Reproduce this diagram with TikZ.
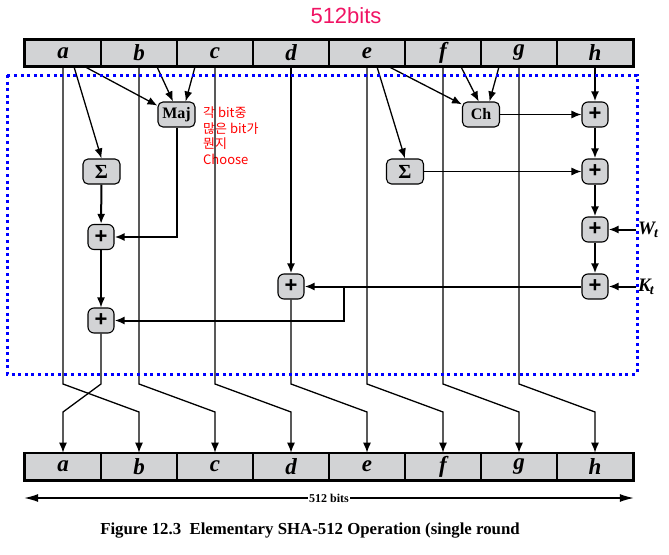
\documentclass[tikz,border=0pt]{standalone}
\usepackage{fontspec}
\setmainfont{Liberation Serif}
\newfontfamily\plusfont{Liberation Sans}
\newfontfamily\krfont{Noto Sans CJK KR}
\usetikzlibrary{arrows.meta}
\definecolor{boxgray}{RGB}{210,211,213}
\definecolor{titlepink}{RGB}{240,20,100}

\begin{document}
\begin{tikzpicture}[x=1pt,y=-1pt,
    >={Latex[length=10pt,width=8pt]},
    reg/.style={draw, line width=1.6pt, fill=boxgray, minimum width=76pt, minimum height=26pt, inner sep=0pt, font=\fontsize{23}{23}\selectfont\bfseries\itshape},
    func/.style={draw, line width=1.1pt, fill=boxgray, rounded corners=5pt, minimum width=37pt, minimum height=25pt, inner sep=0pt, font=\fontsize{16}{16}\selectfont\bfseries},
    adder/.style={draw, line width=1.1pt, fill=boxgray, rounded corners=6pt, minimum width=26pt, minimum height=25pt, inner sep=0pt, font=\plusfont\fontsize{22}{22}\selectfont\bfseries},
    wire/.style={line width=1.3pt},
    bus/.style={line width=2pt}]
                \newcommand{\cellw}{76}
                \useasboundingbox (0,0) rectangle (669,554);

                % Title
                \node[text=titlepink, font=\plusfont\fontsize{22}{22}\selectfont] (title) at (346,16) {512bits};

                % Draw registers
                \foreach \r [count=\i from 0] in {a,b,c,d,e,f,g,h} {
                    \node[reg] (t\r) at ({63+\cellw*\i},53) {\r};
                    \node[reg] (b\r) at ({63+\cellw*\i},466.5) {\r};
                }
                \draw[line width=2.4pt] (ta.north west) rectangle (th.south east);
                \draw[line width=2.4pt] (ba.north west) rectangle (bh.south east);

                % Draw function boxes
                \node[func] (maj) at (176.5,114.5) {Maj};
                \node[func, font=\fontsize{20}{20}\selectfont\bfseries] (sigA) at (101.5,171.5) {Σ};
                \node[func] (ch) at (481,114.5) {Ch};
                \node[func, font=\fontsize{20}{20}\selectfont\bfseries] (sigE) at (405,171.5) {Σ};
                \node[adder] (addA1) at (101,237) {+};
                \node[adder] (addA2) at (101,320.5) {+};
                \node[adder] (addD) at (291,286.5) {+};
                \foreach \k/\y in {1/114.5,2/171.5,3/229.5,4/286.5} {
                    \node[adder] (addH\k) at (595,\y) {+};
                }

                % Note
                \node[anchor=north west, align=left, text=red, font=\krfont\fontsize{13}{15.5}\selectfont, inner sep=0pt] (note) at (203,107) {각 bit중\\많은 bit가\\뭔지\\Choose};

                % Inputs of Maj, Ch and the two sigmas
                \draw[wire,->] ([xshift=22pt]ta.south) -- (maj.155);
                \draw[wire,->] ([xshift=18pt]tb.south) -- (maj.105);
                \draw[wire,->] ([xshift=-20pt]tc.south) -- (maj.55);
                \draw[wire,->] ([xshift=11pt]ta.south) -- (sigA.north);
                \draw[wire,->] ([xshift=22pt]te.south) -- (ch.152);
                \draw[wire,->] ([xshift=18pt]tf.south) -- (ch.100);
                \draw[wire,->] ([xshift=-20pt]tg.south) -- (ch.57);
                \draw[wire,->] ([xshift=10pt]te.south) -- (sigE.north);

                % Left adders
                \draw[bus,->] (sigA) -- (addA1);
                \draw[bus,->] (maj.south) |- (addA1.east);
                \draw[wire,->] (addA1) -- (addA2);
                \draw[bus,->] (td.south) -- (addD.north);

                % Right adders
                \draw[bus,->] (th.south) -- (addH1.north);
                \draw[bus,->] (addH1) -- (addH2);
                \draw[bus,->] (addH2) -- (addH3);
                \draw[bus,->] (addH3) -- (addH4);
                \draw[wire,->] (ch) -- (addH1);
                \draw[wire,->] (sigE) -- (addH2);
                \node[anchor=west, inner sep=2pt, font=\fontsize{19}{19}\selectfont\bfseries\itshape] (wt) at (636,229.5) {W\kern-1pt\raisebox{-3pt}{\fontsize{14}{14}\selectfont t}};
                \node[anchor=west, inner sep=2pt, font=\fontsize{19}{19}\selectfont\bfseries\itshape] (kt) at (636,286.5) {K\kern-1pt\raisebox{-3pt}{\fontsize{14}{14}\selectfont t}};
                \draw[bus,->] (wt.west) -- (addH3.east);
                \draw[bus,->] (kt.west) -- (addH4.east);

                % Back to the left
                \coordinate (split) at (344,286.5);
                \draw[bus,->] (addH4) -- (addD);
                \draw[bus,->] (split) |- (addA2.east);

                % Draw outputs into the new registers
                \coordinate (bendtop) at (0,384);
                \coordinate (bendlow) at (0,412);
                \foreach \s/\d in {ta/bb,tb/bc,tc/bd,te/bf,tf/bg,tg/bh,addA2/ba,addD/be} {
                    \draw[wire,->] (\s.south) -- (\s |- bendtop) -- (\d |- bendlow) -- (\d.north);
                }

                % Width
                \node[font=\fontsize{12}{12}\selectfont\bfseries, fill=white, inner sep=1pt] (bits) at (329,498) {512 bits};
                \draw[wire,-{Latex[length=14pt,width=8pt]}] (bits.west) -- (ba.west |- bits);
                \draw[wire,-{Latex[length=14pt,width=8pt]}] (bits.east) -- (bh.east |- bits);

                % Caption
                \node[font=\fontsize{16.8}{16.8}\selectfont\bfseries] (caption) at (310,531) {Figure 12.3\ \ Elementary SHA-512 Operation (single round};

                % Draw blue dotted frame
                \draw[blue, line width=3pt, dash pattern=on 3pt off 3.6pt] (7,75) rectangle (637,374);
            \end{tikzpicture}
\end{document}
